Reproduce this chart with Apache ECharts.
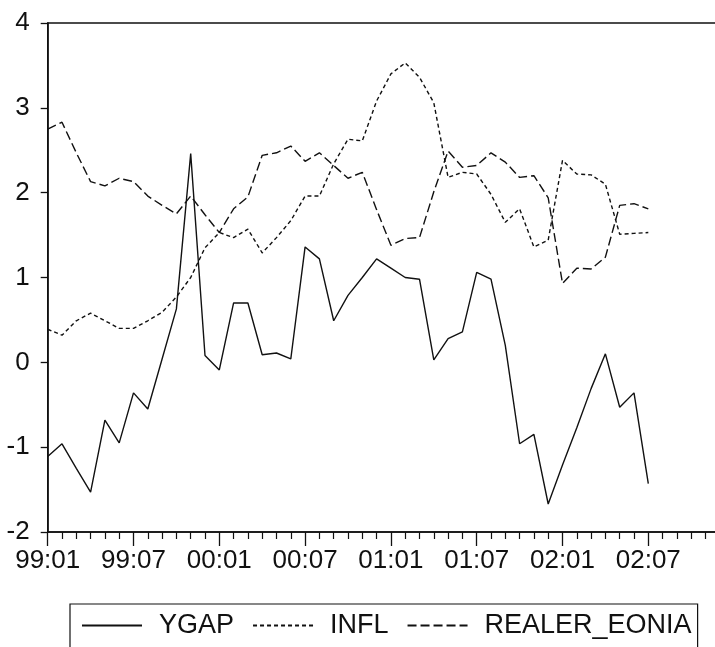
<!DOCTYPE html>
<html>
<head>
<meta charset="utf-8">
<script src="https://cdn.jsdelivr.net/npm/echarts@6/dist/echarts.min.js"></script>
<style>
html,body{margin:0;padding:0;background:#fff;}
#chart{width:715px;height:647px;}
</style>
</head>
<body>
<div id="chart"></div>
<script>
const months = ['99:01','99:02','99:03','99:04','99:05','99:06','99:07','99:08','99:09','99:10','99:11','99:12',
  '00:01','00:02','00:03','00:04','00:05','00:06','00:07','00:08','00:09','00:10','00:11','00:12',
  '01:01','01:02','01:03','01:04','01:05','01:06','01:07','01:08','01:09','01:10','01:11','01:12',
  '02:01','02:02','02:03','02:04','02:05','02:06','02:07'];
const xTickLabels = ['99:01','99:07','00:01','00:07','01:01','01:07','02:01','02:07','03:01'];
const yTicks = [-2,-1,0,1,2,3,4];

const ygap = [-1.11,-0.96,-1.25,-1.53,-0.68,-0.95,-0.36,-0.55,0.04,0.63,2.46,0.08,
  -0.09,0.70,0.70,0.09,0.11,0.04,1.36,1.22,0.49,0.79,1.00,1.22,
  1.11,1.00,0.98,0.03,0.28,0.36,1.06,0.98,0.20,-0.96,-0.85,-1.67,
  -1.21,-0.77,-0.31,0.10,-0.53,-0.36,-1.43];
const infl = [0.39,0.32,0.49,0.58,0.49,0.40,0.40,0.49,0.59,0.77,1.00,1.35,
  1.53,1.47,1.57,1.29,1.47,1.67,1.96,1.96,2.34,2.63,2.61,3.08,
  3.40,3.53,3.36,3.06,2.18,2.24,2.22,1.98,1.65,1.81,1.36,1.44,
  2.38,2.22,2.21,2.10,1.51,1.52,1.53];
const realerEonia = [2.75,2.83,2.47,2.13,2.08,2.17,2.13,1.96,1.85,1.75,1.96,1.74,
  1.53,1.81,1.95,2.44,2.47,2.55,2.37,2.47,2.32,2.17,2.24,1.80,
  1.38,1.46,1.47,2.01,2.49,2.30,2.32,2.47,2.36,2.18,2.20,1.94,
  0.93,1.11,1.10,1.24,1.85,1.87,1.81];

const seriesNames = ['YGAP','INFL','REALER_EONIA'];
const ink = '#111';
const FONT = '"Liberation Sans", Arial, sans-serif';

function pairs(arr){ return months.map((m,i)=>[i, arr[i]]); }

const chart = echarts.init(document.getElementById('chart'), null, {renderer:'canvas'});
chart.setOption({
  animation:false,
  backgroundColor:'#fff',
  grid:{left:47.7, width:686.4, top:23, height:509, show:true, borderColor:ink, borderWidth:1.4,
        containLabel:false, outerBoundsMode:'none'},
  legend:{
    left:70, top:604,
    data:seriesNames,
    itemWidth:60, itemHeight:14, itemGap:18,
    itemStyle:{opacity:0},
    borderColor:ink, borderWidth:1.2, borderRadius:0,
    padding:[8,6,30,11],
    textStyle:{fontFamily:FONT, fontSize:27, color:ink, padding:[0,0,0,12]}
  },
  xAxis:{
    type:'value', min:0, max:48, interval:6,
    axisLine:{show:true, onZero:false, lineStyle:{color:ink, width:1.6}},
    axisTick:{show:true, inside:false, length:14, lineStyle:{color:ink, width:1.3}},
    minorTick:{show:true, splitNumber:6, length:7, lineStyle:{color:ink, width:1.2}},
    splitLine:{show:false},
    axisLabel:{fontFamily:FONT, fontSize:26, color:ink, margin:16,
      formatter:(v)=> (v % 6 === 0 && v/6 < xTickLabels.length-1) ? xTickLabels[v/6] : ''}
  },
  yAxis:{
    type:'value', min:yTicks[0], max:yTicks[yTicks.length-1], interval:1,
    axisLine:{show:true, onZero:false, lineStyle:{color:ink, width:1.6}},
    axisTick:{show:true, inside:false, length:7, lineStyle:{color:ink, width:1.3}},
    splitLine:{show:false},
    axisLabel:{fontFamily:FONT, fontSize:26, color:ink, margin:18}
  },
  series:[
    {name:seriesNames[0], type:'line', data:pairs(ygap), symbol:'none',
     lineStyle:{color:ink, width:1.4, type:'solid'}, itemStyle:{color:ink}},
    {name:seriesNames[1], type:'line', data:pairs(infl), symbol:'none',
     lineStyle:{color:ink, width:1.4, type:[4,3]}, itemStyle:{color:ink}},
    {name:seriesNames[2], type:'line', data:pairs(realerEonia), symbol:'none',
     lineStyle:{color:ink, width:1.4, type:[9,4]}, itemStyle:{color:ink}}
  ]
});
</script>
</body>
</html>
